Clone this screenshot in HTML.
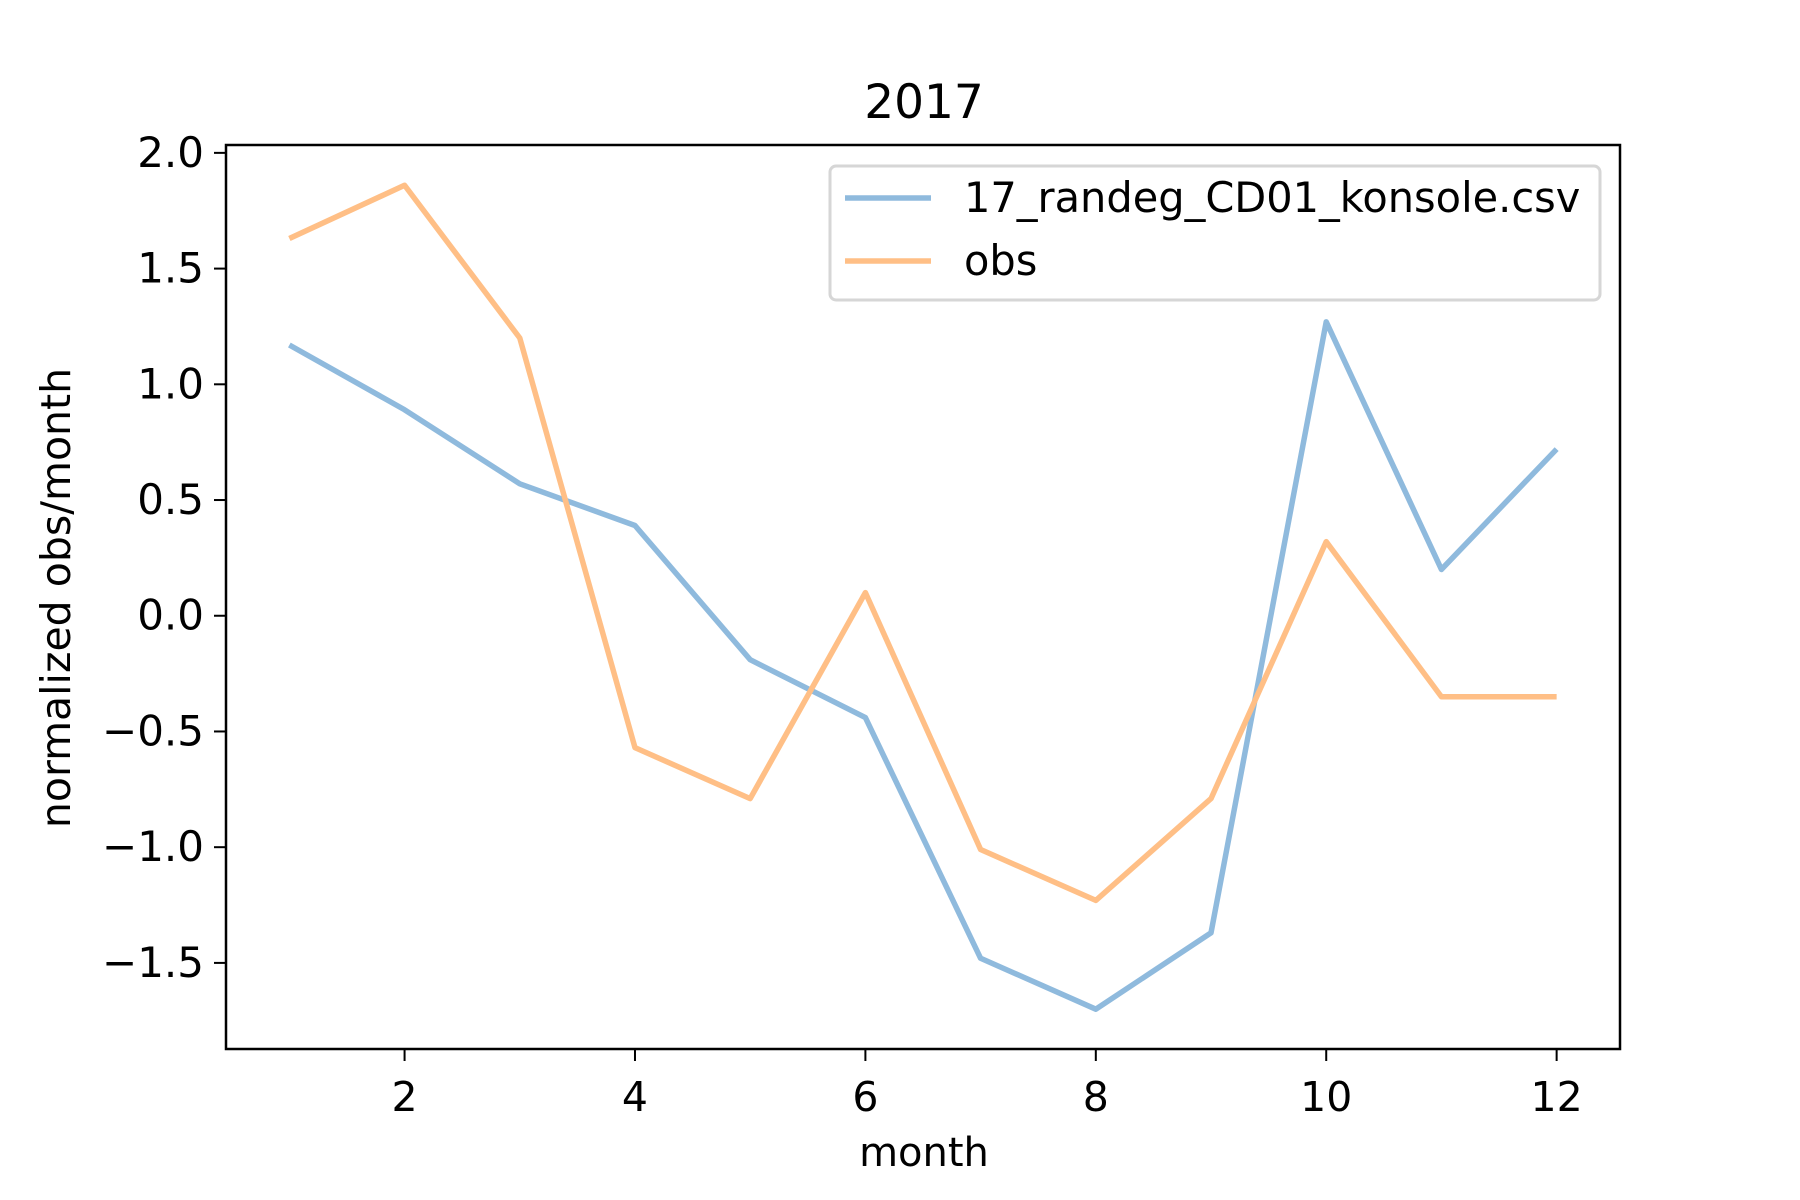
<!DOCTYPE html>
<html><head><meta charset="utf-8"><style>
html,body{margin:0;padding:0;background:#fff;}
svg{display:block;font-family:"DejaVu Sans","Liberation Sans",sans-serif;}
</style></head><body>
<svg id="chart" width="1800" height="1200" viewBox="0 0 1800 1200">
<rect width="1800" height="1200" fill="#fff"/>
<text x="924" y="118" font-size="47" text-anchor="middle">2017</text>
<g id="plot"></g>
<rect x="226" y="145" width="1394" height="904" fill="none" stroke="#000" stroke-width="2.5"/>
<text x="924" y="1166" font-size="40" text-anchor="middle">month</text>
<text transform="translate(70,598) rotate(-90)" font-size="41" text-anchor="middle">normalized obs/month</text>
<g>
<rect x="830" y="166" width="770" height="134" rx="6" fill="#fff" fill-opacity="0.8" stroke="#d6d6d6" stroke-width="3"/>
<line x1="845" y1="198" x2="931" y2="198" stroke="#8fbadd" stroke-width="5.5"/>
<text x="964" y="212" font-size="41.5">17_randeg_CD01_konsole.csv</text>
<line x1="845" y1="261" x2="931" y2="261" stroke="#ffbf86" stroke-width="5.5"/>
<text x="964" y="275" font-size="41.5">obs</text>
</g>
</svg>
<script>
const months = [1,2,3,4,5,6,7,8,9,10,11,12];
const konsole = [1.17,0.89,0.57,0.39,-0.19,-0.44,-1.48,-1.70,-1.37,1.27,0.20,0.72];
const obs = [1.63,1.86,1.20,-0.57,-0.79,0.10,-1.01,-1.23,-0.79,0.32,-0.35,-0.35];
const xTicks = [2,4,6,8,10,12];
const yTicks = [2.0,1.5,1.0,0.5,0.0,-0.5,-1.0,-1.5];

const L=226,R=1620,T=145,B=1049;
const xMin=0.45,xMax=12.55,yMin=-1.872,yMax=2.034;
function xs(v){return L+(v-xMin)/(xMax-xMin)*(R-L);}
function ys(v){return B-(v-yMin)/(yMax-yMin)*(B-T);}
const NS='http://www.w3.org/2000/svg';
const g=document.getElementById('plot');
function mk(t,a){const e=document.createElementNS(NS,t);for(const k in a)e.setAttribute(k,a[k]);g.appendChild(e);return e;}

xTicks.forEach(v=>{
  const l=mk('line',{x1:xs(v),x2:xs(v),y1:B,y2:B+12,stroke:'#000','stroke-width':2});
  
  
  const t=mk('text',{x:xs(v),y:B+62,'font-size':41,'text-anchor':'middle'});
  t.textContent=String(v);
  
  
});
yTicks.forEach(v=>{
  const l=mk('line',{x1:L-12,x2:L,y1:ys(v),y2:ys(v),stroke:'#000','stroke-width':2});
  
  
  const t=mk('text',{x:L-22,y:ys(v)+14,'font-size':42,'text-anchor':'end'});
  t.textContent=(v<0?'\u2212':'')+Math.abs(v).toFixed(1);
  
  
});
function series(vals,color,name){
  const p=mk('polyline',{points:months.map((m,i)=>xs(m)+','+ys(vals[i])).join(' '),fill:'none',stroke:color,'stroke-width':5.5,'stroke-linejoin':'round'});
  
  
}
series(konsole,'#8fbadd','konsole-line');
series(obs,'#ffbf86','obs-line');
</script>
</body></html>
